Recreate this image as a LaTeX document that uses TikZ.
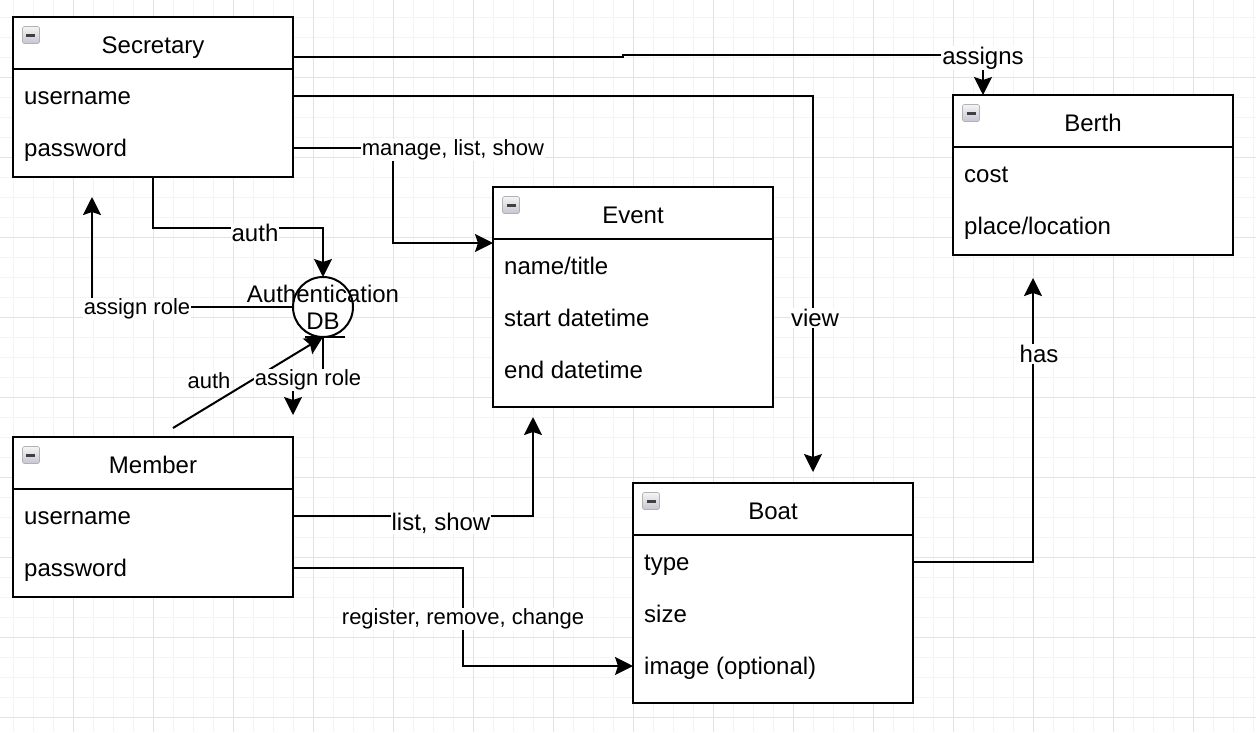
\documentclass[tikz,border=0pt]{standalone}
\usepackage{fontspec}
\setmainfont{Liberation Sans}
\usetikzlibrary{arrows.meta}

\begin{document}
\begin{tikzpicture}[x=1pt, y=-1pt]
  % Define styles for classes, labels and links
  \tikzset{
    class box/.style={draw, fill=white, line width=2pt, minimum width=280pt, inner sep=0pt, outer sep=0pt},
    title node/.style={font=\fontsize{24pt}{27pt}\selectfont, inner sep=0pt, text height=17pt, text depth=0pt},
    attr node/.style={title node, anchor=west},
    minus icon/.style={draw=gray!60, line width=0.6pt, rounded corners=1.5pt, minimum size=17pt, inner sep=0pt,
      top color=blue!4!gray!8, bottom color=blue!12!gray!40},
    link/.style={line width=2pt},
    arrow link/.style={link, -{Stealth[length=18pt, width=18pt, inset=3pt]}},
    big label/.style={font=\fontsize{24pt}{27pt}\selectfont, fill=white, inner sep=1pt},
    small label/.style={big label, font=\fontsize{22pt}{25pt}\selectfont},
    grid minor/.style={gray!9, line width=1pt},
    grid major/.style={gray!22, line width=1pt}
  }

  % Background and grid
  \useasboundingbox (0,0) rectangle (1256,732);
  \fill[white] (0,0) rectangle (1256,732);
  \foreach \gx in {13,33,...,1253} \draw[grid minor] (\gx,0) -- (\gx,732);
  \foreach \gy in {17,37,...,717} \draw[grid minor] (0,\gy) -- (1256,\gy);
  \foreach \gx in {73,153,...,1233} \draw[grid major] (\gx,0) -- (\gx,732);
  \foreach \gy in {77,157,...,717} \draw[grid major] (0,\gy) -- (1256,\gy);

  % Secretary
  \node[class box, minimum height=160pt] (secr) at (153,97) {};
  \draw[link] ([yshift=-52pt]secr.north west) -- ([yshift=-52pt]secr.north east);
  \node[minus icon] (secr-icon) at (31,35) {\textcolor{black!75}{\rule{9pt}{3pt}}};
  \node[title node] (secr-title) at (153,45) {Secretary};
  \node[attr node] (secr-user) at (24,96) {username};
  \node[attr node] (secr-pass) at (24,148) {password};

  % Berth
  \node[class box, minimum height=160pt] (berth) at (1093,175) {};
  \draw[link] ([yshift=-52pt]berth.north west) -- ([yshift=-52pt]berth.north east);
  \node[minus icon] (berth-icon) at (971,113) {\textcolor{black!75}{\rule{9pt}{3pt}}};
  \node[title node] (berth-title) at (1093,123) {Berth};
  \node[attr node] (berth-cost) at (964,174) {cost};
  \node[attr node] (berth-place) at (964,226) {place/location};

  % Event
  \node[class box, minimum height=220pt] (event) at (633,297) {};
  \draw[link] ([yshift=-52pt]event.north west) -- ([yshift=-52pt]event.north east);
  \node[minus icon] (event-icon) at (511,205) {\textcolor{black!75}{\rule{9pt}{3pt}}};
  \node[title node] (event-title) at (633,215) {Event};
  \node[attr node] (event-name) at (504,266) {name/title};
  \node[attr node] (event-start) at (504,318) {start datetime};
  \node[attr node] (event-end) at (504,370) {end datetime};

  % Member
  \node[class box, minimum height=160pt] (memb) at (153,517) {};
  \draw[link] ([yshift=-52pt]memb.north west) -- ([yshift=-52pt]memb.north east);
  \node[minus icon] (memb-icon) at (31,455) {\textcolor{black!75}{\rule{9pt}{3pt}}};
  \node[title node] (memb-title) at (153,465) {Member};
  \node[attr node] (memb-user) at (24,516) {username};
  \node[attr node] (memb-pass) at (24,568) {password};

  % Boat
  \node[class box, minimum height=220pt] (boat) at (773,593) {};
  \draw[link] ([yshift=-52pt]boat.north west) -- ([yshift=-52pt]boat.north east);
  \node[minus icon] (boat-icon) at (651,501) {\textcolor{black!75}{\rule{9pt}{3pt}}};
  \node[title node] (boat-title) at (773,511) {Boat};
  \node[attr node] (boat-type) at (644,562) {type};
  \node[attr node] (boat-size) at (644,614) {size};
  \node[attr node] (boat-img) at (644,666) {image (optional)};

  % Authentication DB
  \node[circle, draw, fill=white, line width=2pt, minimum size=60pt, inner sep=0pt, outer sep=0pt] (authdb) at (323,307) {};
  \draw[link] ([xshift=-18pt]authdb.south) -- ([xshift=22pt]authdb.south);
  \node[title node] (authdb-top) at (323,294) {Authentication};
  \node[title node] (authdb-bot) at (323,321) {DB};

  % Links
  \draw[arrow link] ([yshift=-40pt]secr.north east) -- (623,57) -- (623,55) -| ([xshift=30pt]berth.north west);
  \draw[arrow link] (secr-user -| secr.east) -| ([xshift=180pt, yshift=11pt]boat.north west);
  \draw[arrow link] (secr-pass -| secr.east) -- ++(100,0) |- ([yshift=-56pt]event.north west);
  \draw[arrow link] (secr.south) -- ++(0,51) -| (authdb.north);
  \draw[arrow link] (authdb.west) -| ([xshift=79pt, yshift=-20pt]secr.south west);
  \draw[arrow link] ([xshift=160pt, yshift=9pt]memb.north west) -- (authdb.south);
  \draw[arrow link] (authdb.south) -- ++(0,43) -| ([yshift=22pt]memb.north east);
  \draw[arrow link] (memb-user -| memb.east) -| ([xshift=40pt, yshift=-10pt]event.south west);
  \draw[arrow link] (memb-pass -| memb.east) -- ++(170,0) |- (boat-img -| boat.west);
  \draw[arrow link] (boat-type -| boat.east) -| ([xshift=80pt, yshift=-23pt]berth.south west);

  % Link labels
  \node[big label] (lbl-assigns) at (983,58) {assigns};
  \node[big label] (lbl-view) at (815,318) {view};
  \node[small label] (lbl-manage) at (453,150) {manage, list, show};
  \node[big label] (lbl-auth-top) at (255,233) {auth};
  \node[small label] (lbl-role-left) at (137,309) {assign role};
  \node[small label] (lbl-auth-bot) at (209,381) {auth};
  \node[small label] (lbl-role-bot) at (308,380) {assign role};
  \node[big label] (lbl-list) at (441,523) {list, show};
  \node[small label] (lbl-register) at (463,619) {register, remove, change};
  \node[big label] (lbl-has) at (1039,354) {has};
\end{tikzpicture}
\end{document}
